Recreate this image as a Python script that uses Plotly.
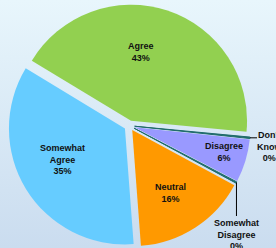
import math
import base64
import plotly.graph_objects as go

# ---- data ----
labels = ["Agree", "Don't Know", "Disagree", "Somewhat Disagree", "Neutral", "Somewhat Agree"]
values = [43, 0.2, 6, 0.2, 16, 35]
colors = ["#92D050", "#1F6B6B", "#9999FF", "#1F6B6B", "#FF9900", "#66CCFF"]

# ---- geometry / style ----
W, H = 276, 248
CX, CY = 129.4, 125.7      # pie centre in px
R = 116.0                  # pie radius in px
PULL = 0.045
ROTATION = 301.2

box = 2 * R * (1 + PULL)
dom_x = [(CX - box / 2) / W, (CX + box / 2) / W]
dom_y = [1 - (CY + box / 2) / H, 1 - (CY - box / 2) / H]

total = sum(values)
pct = [round(v / total * 100) for v in values]
is_zero = [p == 0 for p in pct]
line_w = [1 if z else 0 for z in is_zero]

FONT = dict(family="Liberation Sans, Arial", size=9, color="#111111", weight="bold")

# label block centres (px) for the in-slice labels
inside_pos = {
    "Agree": (141.5, 52.5),
    "Somewhat Agree": (63, 159.3),
    "Neutral": (170.7, 193),
    "Disagree": (224, 151.7),
}

fig = go.Figure(go.Pie(
    labels=labels,
    values=values,
    textinfo="none",
    marker=dict(colors=colors, line=dict(color="#1F6B6B", width=line_w)),
    sort=False,
    direction="clockwise",
    rotation=ROTATION,
    pull=[PULL] * len(values),
    domain=dict(x=dom_x, y=dom_y),
    showlegend=False,
    hoverinfo="label+percent",
))


def edge_point(idx):
    start = ROTATION + sum(values[:idx]) / total * 360
    mid = math.radians(start + values[idx] / total * 360 / 2)
    rr = R * (1 + PULL)
    return CX + rr * math.sin(mid), CY - rr * math.cos(mid)


shapes = []
annotations = []

for i, lab in enumerate(labels):
    if is_zero[i]:
        continue
    px, py = inside_pos[lab]
    annotations.append(dict(x=px / W, y=1 - py / H, xref="paper", yref="paper",
                            xanchor="center", yanchor="middle", showarrow=False,
                            text=lab.replace(" ", "<br>") + "<br>" + f"{pct[i]}%",
                            align="center", font=FONT))

zero_idx = [i for i, z in enumerate(is_zero) if z]
for k, i in enumerate(zero_idx):
    ex, ey = edge_point(i)
    txt = labels[i].replace(" ", "<br>") + "<br>" + f"{pct[i]}%"
    if k == 0:
        x1 = ex + 7
        shapes.append(dict(type="line", xref="paper", yref="paper",
                           x0=ex / W, y0=1 - ey / H, x1=x1 / W, y1=1 - ey / H,
                           line=dict(color="#000000", width=1)))
        annotations.append(dict(x=(x1 - 1) / W, y=1 - (ey - 9) / H, xref="paper", yref="paper",
                                xanchor="left", yanchor="top", text=txt, showarrow=False,
                                align="center", font=FONT, borderpad=0))
    else:
        y1 = 216
        shapes.append(dict(type="line", xref="paper", yref="paper",
                           x0=ex / W, y0=1 - ey / H, x1=ex / W, y1=1 - y1 / H,
                           line=dict(color="#000000", width=1)))
        annotations.append(dict(x=ex / W, y=1 - (y1 + 0.5) / H, xref="paper", yref="paper",
                                xanchor="center", yanchor="top", text=txt, showarrow=False,
                                align="center", font=FONT, borderpad=0))

# background gradient
svg = (f'<svg xmlns="http://www.w3.org/2000/svg" width="{W}" height="{H}">'
       '<defs><linearGradient id="g" x1="0" y1="0" x2="0" y2="1">'
       '<stop offset="0" stop-color="#E8F6FC"/><stop offset="1" stop-color="#CADCEF"/>'
       '</linearGradient></defs>'
       f'<rect width="{W}" height="{H}" fill="url(#g)"/></svg>')
src = "data:image/svg+xml;base64," + base64.b64encode(svg.encode()).decode()

fig.update_layout(
    width=W, height=H,
    margin=dict(l=0, r=0, t=0, b=0),
    paper_bgcolor="#DAEAF5",
    plot_bgcolor="rgba(0,0,0,0)",
    shapes=shapes,
    annotations=annotations,
    images=[dict(source=src, xref="paper", yref="paper", x=0, y=1, sizex=1, sizey=1,
                 xanchor="left", yanchor="top", sizing="stretch", layer="below")],
)

fig.write_html("out.html",
               config={"displayModeBar": False},
               post_script="document.body.style.margin='0';document.body.style.overflow='hidden';")
